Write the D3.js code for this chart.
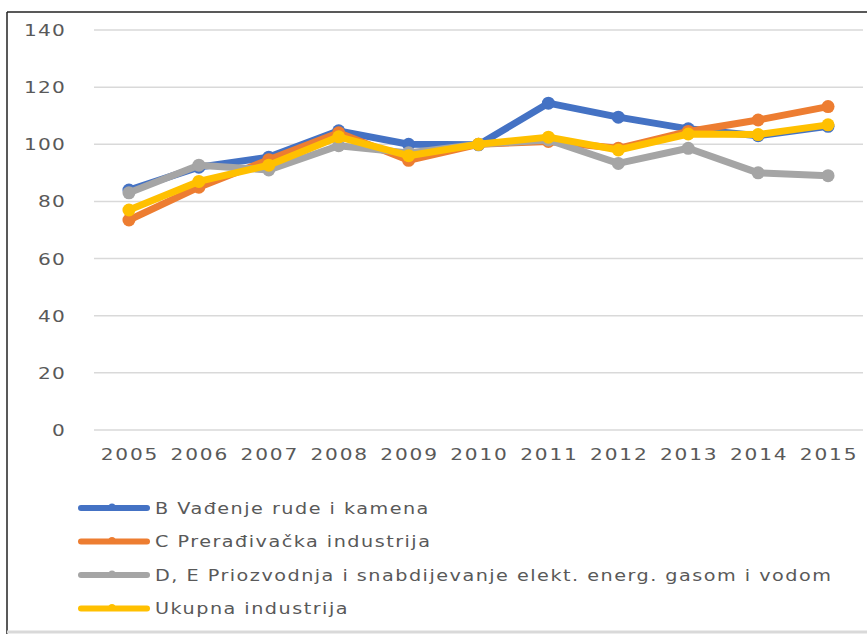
<!DOCTYPE html>
<html>
<head>
<meta charset="utf-8">
<script src="https://cdn.jsdelivr.net/npm/d3@7"></script>
<style>
  body { margin: 0; background: #fff; }
  text { font-family: "DejaVu Sans", sans-serif; fill: #595959; }
</style>
</head>
<body>
<svg width="867" height="634"></svg>
<script>
// Data
const years = [2005, 2006, 2007, 2008, 2009, 2010, 2011, 2012, 2013, 2014, 2015];
const vadjenje = [84, 92, 95.5, 104.7, 100, 99.8, 114.4, 109.5, 105.4, 103, 106.3];
const preradjivacka = [73.5, 85, 94.6, 104, 94.4, 100, 101, 98.6, 104.5, 108.5, 113.2];
const energija = [83, 92.7, 91, 99.5, 97, 100, 101.5, 93.3, 98.6, 90, 89];
const ukupna = [77, 87, 92.7, 102.6, 96, 100, 102.5, 98, 103.6, 103.4, 106.8];
const yTicks = [0, 20, 40, 60, 80, 100, 120, 140];

const series = [
  { name: 'B Vađenje rude i kamena', values: vadjenje, color: '#4472C4' },
  { name: 'C Prerađivačka industrija', values: preradjivacka, color: '#ED7D31' },
  { name: 'D, E Priozvodnja i snabdijevanje elekt. energ. gasom i vodom', values: energija, color: '#A5A5A5' },
  { name: 'Ukupna industrija', values: ukupna, color: '#FFC000' }
];

// text in the picture is stretched sideways
const stretch = 1.22;

const svg = d3.select('svg');

// Frame
svg.append('line').attr('x1', 7).attr('x2', 867).attr('y1', 12).attr('y2', 12)
  .attr('stroke', '#222').attr('stroke-width', 1.5);
svg.append('line').attr('x1', 7).attr('x2', 7).attr('y1', 12).attr('y2', 634)
  .attr('stroke', '#222').attr('stroke-width', 1.5);
svg.append('line').attr('x1', 7).attr('x2', 867).attr('y1', 632).attr('y2', 632)
  .attr('stroke', '#d9d9d9').attr('stroke-width', 3);

// Scales
const x = d3.scaleBand().domain(years).range([94, 863]);
const y = d3.scaleLinear().domain([0, 140]).range([430, 30]);

// Grid lines
svg.append('g').selectAll('line')
  .data(yTicks)
  .enter()
  .append('line')
  .attr('x1', 94).attr('x2', 863)
  .attr('y1', d => y(d)).attr('y2', d => y(d))
  .attr('stroke', '#d9d9d9').attr('stroke-width', 1.5);

// Y labels
svg.append('g').selectAll('text')
  .data(yTicks)
  .enter()
  .append('text')
  .attr('transform', d => `translate(66,${y(d)}) scale(${stretch},1)`)
  .attr('dy', '0.36em')
  .attr('text-anchor', 'end')
  .style('font-size', '16.5px')
  .style('letter-spacing', '1px')
  .text(d => d);

// X labels
svg.append('g').selectAll('text')
  .data(years)
  .enter()
  .append('text')
  .attr('transform', d => `translate(${x(d) + x.bandwidth() / 2 + 1},460) scale(${stretch},1)`)
  .attr('text-anchor', 'middle')
  .style('font-size', '16.5px')
  .style('letter-spacing', '1.5px')
  .text(d => d);

// Lines
const line = d3.line()
  .x((d, i) => x(years[i]) + x.bandwidth() / 2)
  .y(d => y(d));

series.forEach(s => {
  const g = svg.append('g');
  g.append('path')
    .attr('d', line(s.values))
    .attr('fill', 'none')
    .attr('stroke', s.color)
    .attr('stroke-width', 7)
    .attr('stroke-linejoin', 'round');
  g.selectAll('circle')
    .data(s.values)
    .enter()
    .append('circle')
    .attr('cx', (d, i) => x(years[i]) + x.bandwidth() / 2)
    .attr('cy', d => y(d))
    .attr('r', 6.5)
    .attr('fill', s.color);
});

// Legend
const legend = svg.append('g');
series.forEach((s, i) => {
  const ly = 508 + i * 33.5;
  legend.append('line')
    .attr('x1', 81).attr('x2', 147).attr('y1', ly).attr('y2', ly)
    .attr('stroke', s.color).attr('stroke-width', 6).attr('stroke-linecap', 'round');
  legend.append('circle').attr('cx', 112).attr('cy', ly - 1).attr('r', 3.6).attr('fill', s.color);
  legend.append('text')
    .attr('transform', `translate(155,${ly}) scale(1.24,1)`)
    .attr('dy', '0.36em')
    .style('font-size', '15.5px')
    .style('letter-spacing', '1.2px')
    .text(s.name);
});
</script>
</body>
</html>
